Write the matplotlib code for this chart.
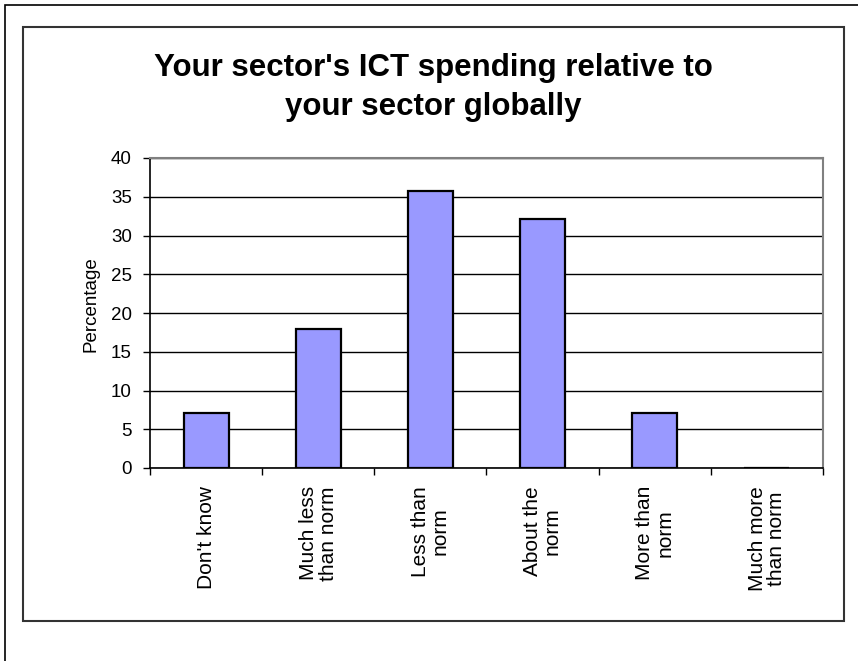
import matplotlib
matplotlib.use("Agg")
import matplotlib.pyplot as plt
from matplotlib.patches import Rectangle
from matplotlib.ticker import FixedLocator

plt.rcParams['font.family'] = ['Liberation Sans', 'DejaVu Sans']

categories = ["Don't know", "Much less\nthan norm", "Less than\nnorm",
              "About the\nnorm", "More than\nnorm", "Much more\nthan norm"]
values = [7.1, 17.9, 35.7, 32.1, 7.1, 0.0]
yticks = [0, 5, 10, 15, 20, 25, 30, 35, 40]
title = "Your sector's ICT spending relative to\nyour sector globally"
ylabel = "Percentage"

W, H = 858, 661
fig = plt.figure(figsize=(W / 100, H / 100), dpi=100)

def fx(px):
    return px / W

def fy(py):
    return 1 - py / H

# outer border (top & left visible)
fig.patches.append(Rectangle((fx(5), fy(700)), fx(900), fy(5) - fy(700),
                             transform=fig.transFigure, fill=False,
                             edgecolor='black', linewidth=1.2))
# inner chart border
fig.patches.append(Rectangle((fx(23), fy(621)), fx(844) - fx(23), fy(27) - fy(621),
                             transform=fig.transFigure, fill=False,
                             edgecolor='#333333', linewidth=1.5))

ax = fig.add_axes([fx(150), fy(468), fx(823) - fx(150), fy(158) - fy(468)])
x = list(range(len(categories)))
ax.bar(x, values, width=0.4, color='#9999FF', edgecolor='black', linewidth=1.6, zorder=3)
ax.set_xlim(-0.5, len(categories) - 0.5)
ax.set_ylim(0, 40)
ax.set_yticks(yticks)
ax.set_yticklabels([str(v) for v in yticks], fontsize=13.5)
ax.yaxis.grid(True, color='black', linewidth=1.0, zorder=0)
ax.set_axisbelow(True)

ax.set_xticks(x)
ax.set_xticklabels(categories, rotation=90, fontsize=15, ha='center', va='top',
                   multialignment='center', linespacing=1.05)
ax.tick_params(axis='x', which='major', length=0, pad=13)
ax.xaxis.set_minor_locator(FixedLocator([i - 0.5 for i in range(len(categories) + 1)]))
ax.tick_params(axis='x', which='minor', length=5, width=1, color='black')
ax.tick_params(axis='y', length=5, width=1, color='black', pad=8)

for s in ['top', 'right']:
    ax.spines[s].set_color('#808080')
    ax.spines[s].set_linewidth(1.5)
for s in ['left', 'bottom']:
    ax.spines[s].set_color('black')
    ax.spines[s].set_linewidth(1.2)

fig.text(fx(433), fy(53), title, ha='center', va='top', fontsize=22.5,
         fontweight='bold', linespacing=1.4)
fig.text(fx(91), fy(304), ylabel, rotation=90, ha='center', va='center', fontsize=13.5)

fig.savefig('out.png', dpi=100)
